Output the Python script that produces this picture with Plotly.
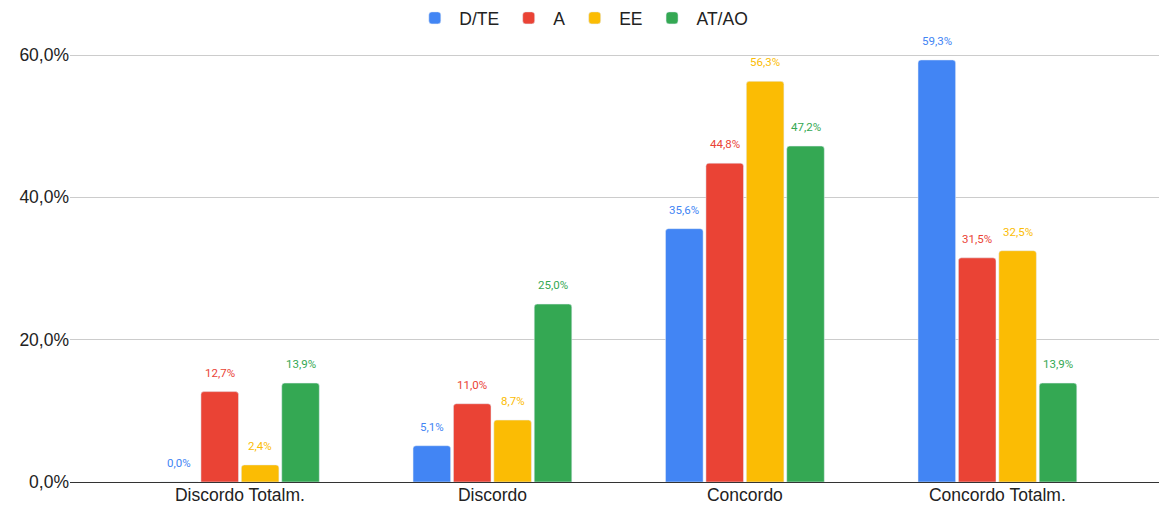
import plotly.graph_objects as go

categories = ["Discordo Totalm.", "Discordo", "Concordo", "Concordo Totalm."]
series_names = ["D/TE", "A", "EE", "AT/AO"]
d_te = [0.000, 0.051, 0.356, 0.593]
a = [0.127, 0.110, 0.448, 0.315]
ee = [0.024, 0.087, 0.563, 0.325]
at_ao = [0.139, 0.250, 0.472, 0.139]
colors = ["#4285F4", "#EA4335", "#FBBC04", "#34A853"]

bargap = 0.36
n_series = len(series_names)
slot = (1 - bargap) / n_series

fig = go.Figure()
for i, (name, vals, col) in enumerate(zip(series_names, [d_te, a, ee, at_ao], colors)):
    fig.add_trace(go.Bar(
        x=categories, y=vals, name=name,
        marker=dict(color=col, cornerradius=3),
        hovertemplate="%{x}: %{y:.1%}<extra>" + name + "</extra>",
    ))
    for j, v in enumerate(vals):
        fig.add_annotation(
            x=j + (i - (n_series - 1) / 2) * slot, y=v,
            text=f"{v * 100:.1f}%".replace(".", ","),
            showarrow=False, yanchor="middle", yshift=19,
            font=dict(family="Roboto", size=11.5, color=col),
        )

top = 35
y0 = 482
y60 = 55
ymax = 0.6 * (y0 - top) / (y0 - y60)

fig.update_layout(
    width=1159, height=510,
    margin=dict(l=70, r=0, t=top, b=510 - y0, autoexpand=False),
    plot_bgcolor="white", paper_bgcolor="white",
    separators=",.",
    barmode="group", bargap=bargap, bargroupgap=0.07,
    font=dict(family="Liberation Sans, Arial", size=17.5, color="#222"),
    legend=dict(orientation="h", xref="container", x=0.502, xanchor="center",
                yref="container", y=1 - 18 / 510, yanchor="middle",
                font=dict(size=17.5, color="#222"), itemwidth=39),
    showlegend=True,
    xaxis=dict(range=[-0.673, 3.64], showgrid=False, tickfont=dict(size=17.5, color="#222"),
               ticks="", showline=False, automargin=False),
    yaxis=dict(range=[0, ymax], tickformat=".1%", tickvals=[0, 0.2, 0.4, 0.6],
               showgrid=True, gridcolor="#cccccc", gridwidth=1,
               zeroline=True, zerolinecolor="#333333", zerolinewidth=1,
               tickfont=dict(size=17.5, color="#222"), ticks="", automargin=False),
)
fig.write_html("out.html", config={"displayModeBar": False},
               post_script="document.body.style.margin='0';document.body.style.overflow='hidden';")
